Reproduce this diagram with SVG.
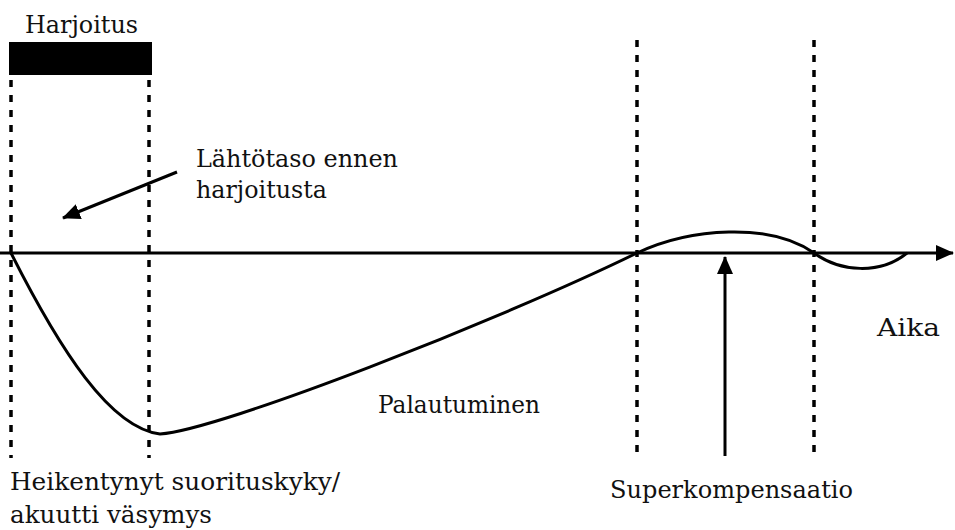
<svg xmlns="http://www.w3.org/2000/svg" width="955" height="530" viewBox="0 0 955 530">
<style>
text{font-family:"DejaVu Serif","Liberation Serif",serif;font-size:25px;fill:#111}
.dash{stroke:#000;stroke-width:3.5;stroke-dasharray:7 8;fill:none}
.ln{stroke:#000;stroke-width:3;fill:none}
</style>
<defs>
<marker id="ahBig" markerWidth="18" markerHeight="16" refX="17" refY="8" orient="auto" markerUnits="userSpaceOnUse" viewBox="0 0 18 16">
<path d="M0,0 L18,8 L0,16 Z" fill="#000"/>
</marker>
</defs>
<rect width="955" height="530" fill="#fff"/>
<g id="harjoitus">
<rect x="9" y="42" width="143" height="33" fill="#000"/>
<text x="25" y="33" textLength="113" lengthAdjust="spacingAndGlyphs">Harjoitus</text>
</g>
<g id="guides">
<line class="dash" x1="11" y1="80" x2="11" y2="458"/>
<line class="dash" x1="149" y1="80" x2="149" y2="458"/>
<line class="dash" x1="637" y1="40" x2="637" y2="458"/>
<line class="dash" x1="814" y1="40" x2="814" y2="458"/>
</g>
<g id="connectors">
<line class="ln" x1="0" y1="253" x2="953" y2="253" marker-end="url(#ahBig)"/>
<path class="ln" d="M11,253 C60,350 110,428 160,434 C220,430 500,320 637,253 C690,228 770,222 814,253 C840,272 880,275 907,253"/>
<line class="ln" x1="177" y1="172" x2="63" y2="218" marker-end="url(#ahBig)"/>
<line class="ln" x1="725" y1="456" x2="725" y2="257" marker-end="url(#ahBig)"/>
</g>
<g id="lahtotaso">
<text x="196" y="167" textLength="202" lengthAdjust="spacingAndGlyphs">Lähtötaso ennen</text>
<text x="196" y="198" textLength="131" lengthAdjust="spacingAndGlyphs">harjoitusta</text>
</g>
<g id="aika"><text x="877" y="336" textLength="63" lengthAdjust="spacingAndGlyphs">Aika</text></g>
<g id="palautuminen"><text x="378" y="413" textLength="162" lengthAdjust="spacingAndGlyphs">Palautuminen</text></g>
<g id="heikentynyt">
<text x="10" y="490" textLength="330" lengthAdjust="spacingAndGlyphs">Heikentynyt suorituskyky/</text>
<text x="10" y="523" textLength="202" lengthAdjust="spacingAndGlyphs">akuutti väsymys</text>
</g>
<g id="superkompensaatio"><text x="610" y="498" textLength="243" lengthAdjust="spacingAndGlyphs">Superkompensaatio</text></g>
</svg>
